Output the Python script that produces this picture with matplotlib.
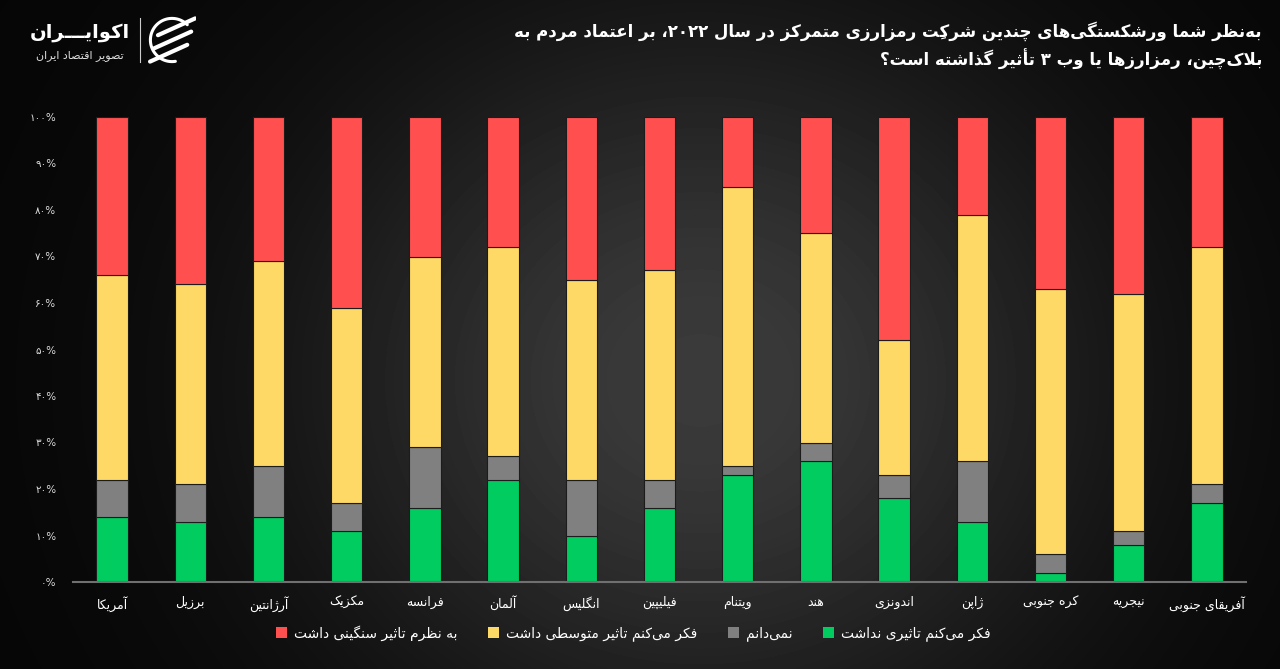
import unicodedata
import numpy as np
import matplotlib
matplotlib.use('Agg')
from matplotlib import pyplot as plt
from matplotlib.patches import Patch
from matplotlib.lines import Line2D

# data (percent), left to right as in the picture
countries = ['آمریکا', 'برزیل', 'آرژانتین', 'مکزیک', 'فرانسه', 'آلمان', 'انگلیس',
             'فیلیپین', 'ویتنام', 'هند', 'اندونزی', 'ژاپن', 'کره جنوبی', 'نیجریه',
             'آفریقای جنوبی']
no_effect = [14, 13, 14, 11, 16, 22, 10, 16, 23, 26, 18, 13, 2, 8, 17]
dont_know = [8, 8, 11, 6, 13, 5, 12, 6, 2, 4, 5, 13, 4, 3, 4]
moderate = [44, 43, 44, 42, 41, 45, 43, 45, 60, 45, 29, 53, 57, 51, 51]
heavy = [34, 36, 31, 41, 30, 28, 35, 33, 15, 25, 48, 21, 37, 38, 28]
yticks = [0, 10, 20, 30, 40, 50, 60, 70, 80, 90, 100]

series_names = ['فکر می‌کنم تاثیری نداشت', 'نمی‌دانم',
                'فکر می‌کنم تاثیر متوسطی داشت', 'به نظرم تاثیر سنگینی داشت']
colors = ['#00cc5f', '#808080', '#ffd966', '#ff4f4f']

title1 = 'به‌نظر شما ورشکستگی‌های چندین شرکتِ رمزارزی متمرکز در سال ۲۰۲۲، بر اعتماد مردم به'
title2 = 'بلاک‌چین، رمزارزها یا وب ۳ تأثیر گذاشته است؟'


# --- tiny arabic/persian shaper (matplotlib has no text shaping) ---
FORMS = {}
for cp in list(range(0xFB50, 0xFE00)) + list(range(0xFE70, 0xFF00)):
    d = unicodedata.decomposition(chr(cp)).split()
    if len(d) < 2 or not d[0].startswith('<'):
        continue
    key = ''.join(chr(int(h, 16)) for h in d[1:])
    FORMS.setdefault(key, {}).setdefault(d[0][1:-1], chr(cp))
RIGHT_JOIN = set('اآأإدذرزژوؤة')


def jtype(u):
    if u == 'ـ':
        return 'D'
    if u in RIGHT_JOIN or (len(u) == 2 and u[0] == 'ل'):
        return 'R'
    if u in FORMS and 'medial' in FORMS[u]:
        return 'D'
    return 'U'


def units(s):
    out = []
    i = 0
    while i < len(s):
        c = s[i]
        if unicodedata.category(c) == 'Mn' and out:
            out[-1][1] += c
            i += 1
            continue
        if c == 'ل' and i + 1 < len(s) and s[i + 1] in 'اآأإ':
            out.append([c + s[i + 1], ''])
            i += 2
            continue
        out.append([c, ''])
        i += 1
    return out


def is_ltr(g):
    c = g[0]
    return c.isdigit() or (c.isascii() and c.isalnum()) or c in '%.'


def rtl(s):
    us = units(s)
    ts = [jtype(u) for u, m in us]
    glyphs = []
    for k, (u, m) in enumerate(us):
        t = ts[k]
        p = k > 0 and ts[k - 1] == 'D' and t in 'DR'
        n = k < len(us) - 1 and t == 'D' and ts[k + 1] in 'DR'
        form = {(1, 1): 'medial', (1, 0): 'final', (0, 1): 'initial', (0, 0): 'isolated'}[(int(p), int(n))]
        f = FORMS.get(u, {})
        g = u if u == 'ـ' else (f.get(form) or f.get('isolated') or u)
        if g == '\u200c':
            continue
        glyphs.append(g + m)
    runs = []
    for g in glyphs:
        if is_ltr(g) and runs and runs[-1][0]:
            runs[-1][1].append(g)
        else:
            runs.append([is_ltr(g), [g]])
    return ''.join(''.join(r[1]) for r in reversed(runs))


def fa_digits(v):
    return str(v).translate(str.maketrans('0123456789', '۰۱۲۳۴۵۶۷۸۹'))


plt.rcParams['font.family'] = ['DejaVu Sans']
W, H = 1280, 669
fig = plt.figure(figsize=(W / 100, H / 100), dpi=100, facecolor='black')

# dark radial background
bg = fig.add_axes([0, 0, 1, 1], zorder=-5)
yy, xx = np.mgrid[0:H, 0:W]
g = 0.02 + 0.21 * np.exp(-(((xx - 700) / 400.0) ** 2 + ((yy - 380) / 360.0) ** 2))
bg.imshow(g, cmap='gray', vmin=0, vmax=1, extent=[0, W, H, 0], aspect='auto')
bg.set_axis_off()

ax = fig.add_axes([73 / W, 87 / H, (1246 - 73) / W, (582 - 117) / H])
ax.set_facecolor('none')
x = np.arange(len(countries))
bottom = np.zeros(len(countries))
for vals, c in zip([no_effect, dont_know, moderate, heavy], colors):
    ax.bar(x, vals, width=0.4, bottom=bottom, color=c, edgecolor='#1c1c1c', linewidth=0.8)
    bottom += np.array(vals)

ax.set_xlim(-0.5, len(countries) - 0.5)
ax.set_ylim(0, 100)
ax.set_yticks(yticks)
ax.set_yticklabels([fa_digits(v) + '%' for v in yticks], fontsize=7.5, color='#dddddd')
ax.set_xticks(x)
ax.set_xticklabels([rtl(c) for c in countries], fontsize=9, color='white')
ax.tick_params(axis='y', length=0, pad=12)
ax.tick_params(axis='x', length=0, pad=10)
for s in ['top', 'right', 'left']:
    ax.spines[s].set_visible(False)
ax.spines['bottom'].set_color('#707070')
ax.spines['bottom'].set_linewidth(1.5)

# title, right aligned on two lines
fig.text(1262 / W, 1 - 31 / H, rtl(title1), ha='right', va='center', fontsize=12,
         weight='bold', color='white')
fig.text(1262 / W, 1 - 59 / H, rtl(title2), ha='right', va='center', fontsize=12,
         weight='bold', color='white')

# legend: red, yellow, gray, green from left to right
handles = [Patch(facecolor=colors[i], edgecolor='none', label=rtl(series_names[i]))
           for i in [3, 2, 1, 0]]
fig.legend(handles=handles, loc='center', bbox_to_anchor=(633 / W, 1 - 633 / H), ncol=4,
           frameon=False, fontsize=10, labelcolor='white', handlelength=0.8,
           handleheight=0.8, handletextpad=0.5, columnspacing=2.2)

# logo
fig.text(80 / W, 1 - 33 / H, rtl('اکوایـــران'), ha='center', va='center', fontsize=14,
         weight='bold', color='white')
fig.text(80 / W, 1 - 56 / H, rtl('تصویر اقتصاد ایران'), ha='center', va='center',
         fontsize=8, color='#dddddd')
fig.add_artist(Line2D([140 / W, 140 / W], [1 - 18 / H, 1 - 62 / H], color='#cccccc', lw=0.8))
lg = fig.add_axes([148 / W, 1 - 64 / H, 48 / W, 48 / H])
lg.set_xlim(-1, 1)
lg.set_ylim(-1, 1)
lg.set_axis_off()
t = np.linspace(0.25 * np.pi, 1.55 * np.pi, 60)
lg.plot(0.9 * np.cos(t), 0.9 * np.sin(t), color='white', lw=2.2, solid_capstyle='round')
for off in [-0.55, 0.0, 0.55]:
    lg.plot([-0.75 + off * 0.3, 0.8 + off * 0.3], [-0.35 + off, 0.35 + off],
            color='white', lw=3, solid_capstyle='round')

fig.savefig('out.png', dpi=100, facecolor='black')
